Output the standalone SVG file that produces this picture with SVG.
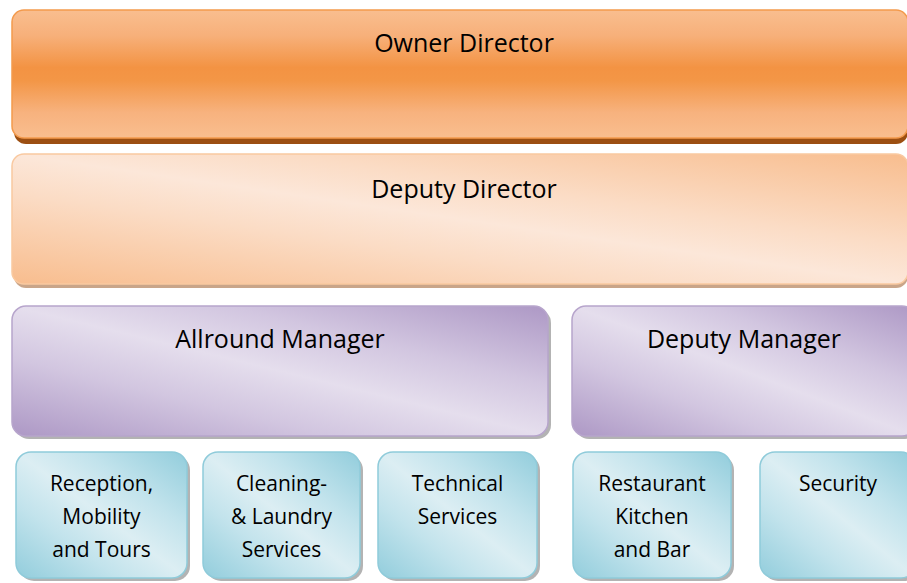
<svg xmlns="http://www.w3.org/2000/svg" width="907" height="583" viewBox="0 0 907 583">
<defs>
<linearGradient id="gOwner" x1="0" y1="0" x2="0" y2="1">
<stop offset="0" stop-color="#f9be8f"/>
<stop offset="0.2" stop-color="#f7b07a"/>
<stop offset="0.45" stop-color="#f39343"/>
<stop offset="0.55" stop-color="#f39646"/>
<stop offset="0.8" stop-color="#f7b27e"/>
<stop offset="1" stop-color="#f9be8f"/>
</linearGradient>
<linearGradient id="gDeputy" x1="0" y1="1" x2="1" y2="0">
<stop offset="0" stop-color="#f8bd8e"/>
<stop offset="0.35" stop-color="#fbdcc5"/>
<stop offset="0.5" stop-color="#fce7d9"/>
<stop offset="0.65" stop-color="#fbdcc5"/>
<stop offset="1" stop-color="#f8bd8e"/>
</linearGradient>
<linearGradient id="gPurple" x1="0" y1="1" x2="1" y2="0">
<stop offset="0" stop-color="#ad98c5"/>
<stop offset="0.3" stop-color="#d2c6e0"/>
<stop offset="0.5" stop-color="#e5deed"/>
<stop offset="0.7" stop-color="#d2c6e0"/>
<stop offset="1" stop-color="#ad98c5"/>
</linearGradient>
<linearGradient id="gTeal" x1="0" y1="1" x2="1" y2="0">
<stop offset="0" stop-color="#92cddc"/>
<stop offset="0.3" stop-color="#c2e3ec"/>
<stop offset="0.5" stop-color="#dceef3"/>
<stop offset="0.7" stop-color="#c2e3ec"/>
<stop offset="1" stop-color="#92cddc"/>
</linearGradient>
</defs>
<style>
.big{font-family:"Open Sans","Liberation Sans",sans-serif;font-size:25px;fill:#000;text-anchor:middle}
.small{font-family:"Open Sans","Liberation Sans",sans-serif;font-size:21px;fill:#000;text-anchor:middle}
.shOwner{fill:#9c4f12}
.shDeputy{fill:#c9a589}
.shGray{fill:#9a9a9a;opacity:0.75}
.owner{fill:url(#gOwner);stroke:#f39a4c;stroke-width:1.5}
.deputy{fill:url(#gDeputy);stroke:#f9c9a0;stroke-width:1.5}
.purple{fill:url(#gPurple);stroke:#b7a5cc;stroke-width:1.5}
.teal{fill:url(#gTeal);stroke:#8fcbda;stroke-width:1.5}
</style>
<g id="connectors"/>
<g id="owner-director">
<rect class="shOwner" x="14" y="14" width="894" height="130" rx="12"/>
<rect class="owner" x="12" y="10" width="896" height="128" rx="12"/>
<text class="big" x="464" y="52">Owner Director</text>
</g>
<g id="deputy-director">
<rect class="shDeputy" x="14" y="158" width="894" height="130" rx="12"/>
<rect class="deputy" x="12" y="154" width="896" height="130" rx="12"/>
<text class="big" x="464" y="198">Deputy Director</text>
</g>
<g id="allround-manager">
<rect class="shGray" x="15" y="309" width="536" height="130" rx="14"/>
<rect class="purple" x="12" y="306" width="536" height="130" rx="14"/>
<text class="big" x="280" y="348">Allround Manager</text>
</g>
<g id="deputy-manager">
<rect class="shGray" x="575" y="309" width="344" height="130" rx="14"/>
<rect class="purple" x="572" y="306" width="344" height="130" rx="14"/>
<text class="big" x="744" y="348">Deputy Manager</text>
</g>
<g id="reception">
<rect class="shGray" x="19" y="455" width="171" height="126" rx="15"/>
<rect class="teal" x="16" y="452" width="171" height="126" rx="15"/>
<text class="small" x="101.5" y="491">Reception,</text>
<text class="small" x="101.5" y="524">Mobility</text>
<text class="small" x="101.5" y="557">and Tours</text>
</g>
<g id="cleaning">
<rect class="shGray" x="206" y="455" width="157" height="126" rx="15"/>
<rect class="teal" x="203" y="452" width="157" height="126" rx="15"/>
<text class="small" x="281.5" y="491">Cleaning-</text>
<text class="small" x="281.5" y="524">&amp; Laundry</text>
<text class="small" x="281.5" y="557">Services</text>
</g>
<g id="technical">
<rect class="shGray" x="381" y="455" width="159" height="126" rx="15"/>
<rect class="teal" x="378" y="452" width="159" height="126" rx="15"/>
<text class="small" x="457.5" y="491">Technical</text>
<text class="small" x="457.5" y="524">Services</text>
</g>
<g id="restaurant">
<rect class="shGray" x="576" y="455" width="158" height="126" rx="15"/>
<rect class="teal" x="573" y="452" width="158" height="126" rx="15"/>
<text class="small" x="652" y="491">Restaurant</text>
<text class="small" x="652" y="524">Kitchen</text>
<text class="small" x="652" y="557">and Bar</text>
</g>
<g id="security">
<rect class="shGray" x="763" y="455" width="156" height="126" rx="15"/>
<rect class="teal" x="760" y="452" width="156" height="126" rx="15"/>
<text class="small" x="838" y="491">Security</text>
</g>
</svg>
